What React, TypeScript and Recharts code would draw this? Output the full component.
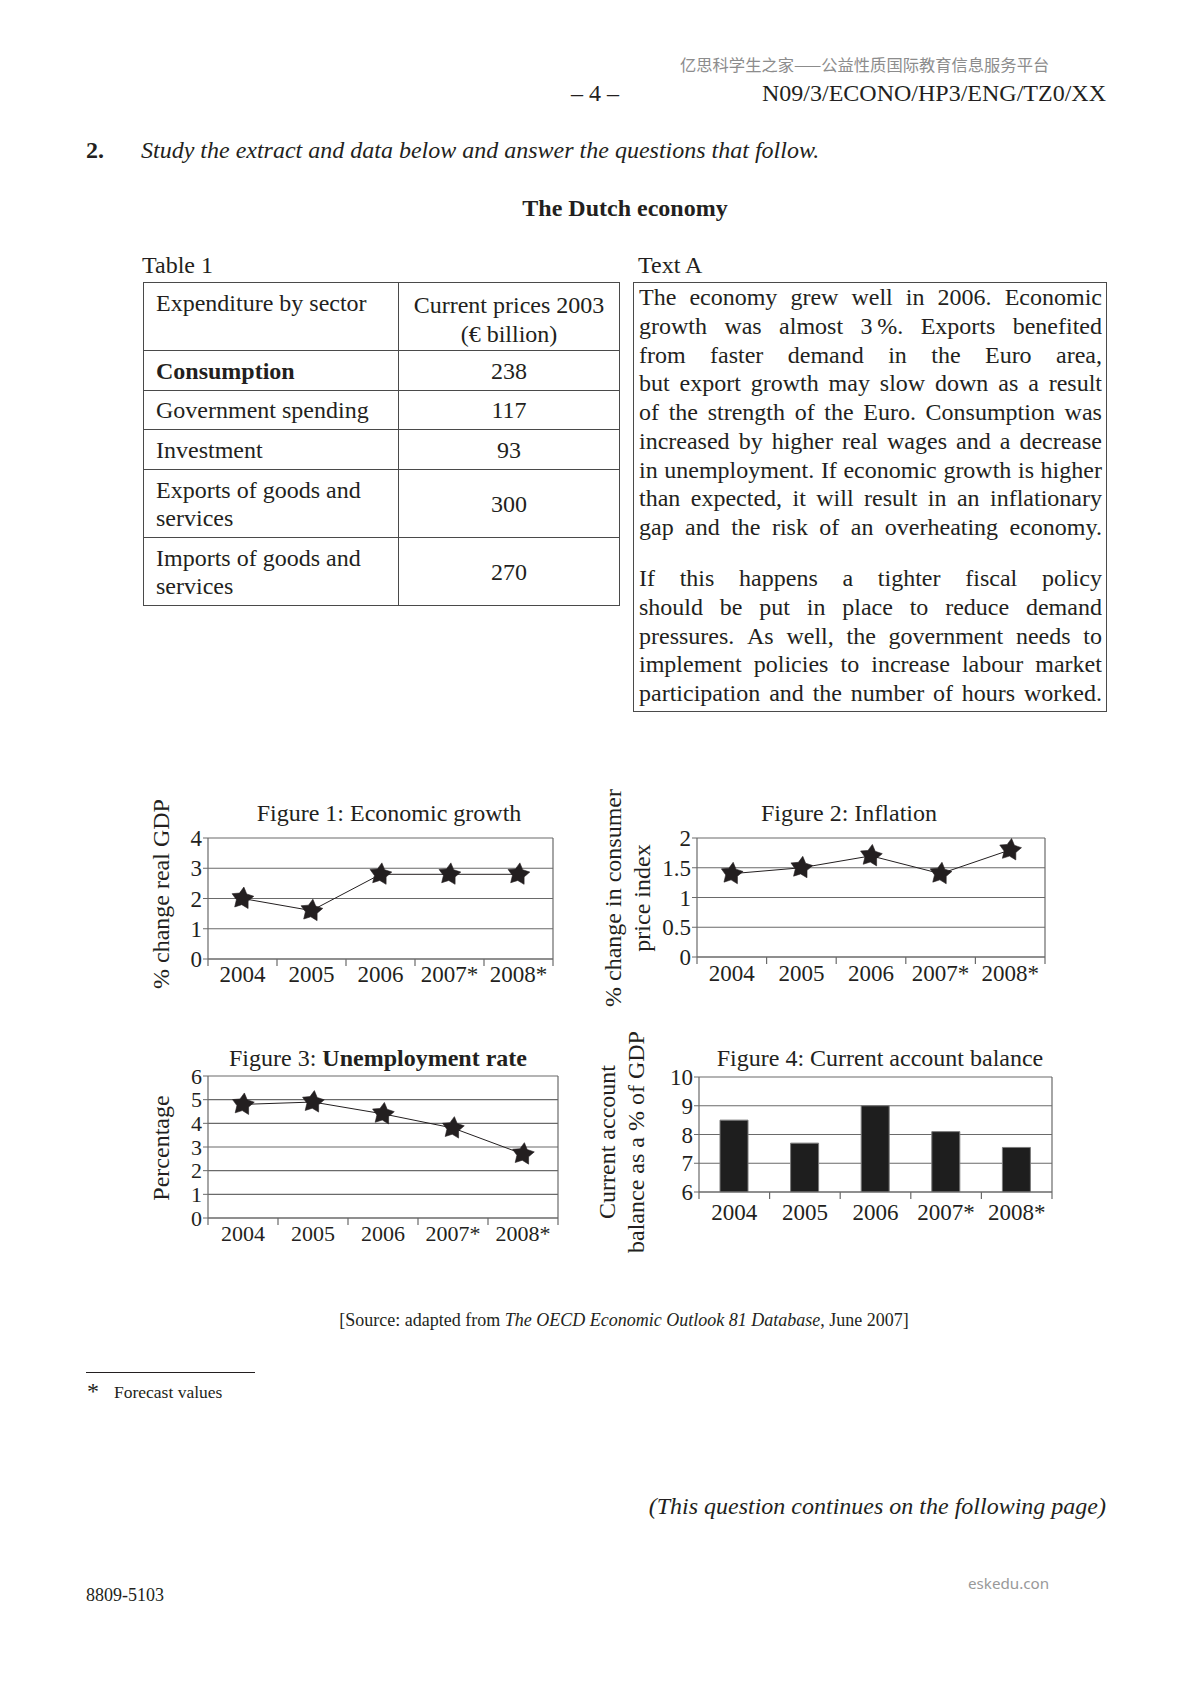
import { Bar, BarChart, CartesianGrid, Line, LineChart, XAxis, YAxis } from "recharts";

const INK = "#231f20";
const GRID = "#6a6a6a";
const SERIF = '"Liberation Serif", "Times New Roman", serif';
const PAGE_W = 1191;
const PAGE_H = 1684;

// chart data
const years = ["2004", "2005", "2006", "2007*", "2008*"];
const growth = [2.0, 1.6, 2.8, 2.8, 2.8];
const inflation = [1.4, 1.5, 1.7, 1.4, 1.8];
const unemployment = [4.8, 4.9, 4.4, 3.8, 2.7];
const currentAccount = [8.5, 7.7, 9.0, 8.1, 7.55];

const growthTicks = [0, 1, 2, 3, 4];
const inflationTicks = [0, 0.5, 1, 1.5, 2];
const unemploymentTicks = [0, 1, 2, 3, 4, 5, 6];
const currentAccountTicks = [6, 7, 8, 9, 10];

// table 1
const sectors = [
  "Consumption",
  "Government spending",
  "Investment",
  "Exports of goods and services",
  "Imports of goods and services",
];
const sectorValues = [238, 117, 93, 300, 270];
const rowHeights = [68, 40, 39, 40, 68, 68];

const textA1 = [
  "The economy grew well in 2006.  Economic",
  "growth was almost 3\u2009%.  Exports benefited",
  "from faster demand in the Euro area,",
  "but export growth may slow down as a result",
  "of the strength of the Euro.  Consumption was",
  "increased by higher real wages and a decrease",
  "in unemployment. If economic growth is higher",
  "than expected, it will result in an inflationary",
  "gap and the risk of an overheating economy.",
];
const textA2 = [
  "If this happens a tighter fiscal policy",
  "should be put in place to reduce demand",
  "pressures.  As well, the government needs to",
  "implement policies to increase labour market",
  "participation and the number of hours worked.",
];

const YW = 56;
const MT = 14;
const MR = 16;
const XH = 46;

function T({ x, y, size = 24, align = "left", children, style }: any) {
  const lh = Math.round(size * 1.2);
  const pos: any = {
    position: "absolute",
    top: y - lh / 2,
    fontSize: size,
    lineHeight: `${lh}px`,
    whiteSpace: "nowrap",
  };
  if (align === "left") pos.left = x;
  else if (align === "right") pos.right = PAGE_W - x;
  else {
    pos.left = x;
    pos.transform = "translateX(-50%)";
  }
  return <div style={{ ...pos, ...style }}>{children}</div>;
}

function VLabel({ x, y, lines, size = 24 }: any) {
  return (
    <div
      style={{
        position: "absolute",
        left: x,
        top: y,
        transform: "translate(-50%, -50%) rotate(-90deg)",
        fontSize: size,
        lineHeight: "29px",
        whiteSpace: "nowrap",
        textAlign: "center",
      }}
    >
      {lines.map((l: string) => (
        <div key={l}>{l}</div>
      ))}
    </div>
  );
}

function JLine({ text }: { text: string }) {
  const words = text.split(" ").filter((w) => w.length > 0);
  return (
    <div style={{ display: "flex", justifyContent: "space-between", height: 28.75, lineHeight: "28.75px" }}>
      {words.map((w, i) => (
        <span key={i}>{w}</span>
      ))}
    </div>
  );
}

function Star(props: any) {
  const { cx, cy } = props;
  if (cx == null || cy == null) return null;
  const pts: string[] = [];
  for (let i = 0; i < 10; i++) {
    const r = i % 2 === 0 ? 11.5 : 6.2;
    const a = -Math.PI / 2 + 0.12 + (i * Math.PI) / 5;
    pts.push(`${cx + r * Math.cos(a)},${cy + r * Math.sin(a)}`);
  }
  return <polygon points={pts.join(" ")} fill={INK} stroke={INK} strokeWidth={0.6} strokeLinejoin="round" />;
}

function yearTick(half: number, dy: number, size: number) {
  return (props: any) => {
    const { x, y, payload, index } = props;
    const last = index === years.length - 1;
    return (
      <g>
        <line x1={x - half} x2={x - half} y1={y} y2={y + 7} stroke={GRID} strokeWidth={1.2} />
        {last && <line x1={x + half} x2={x + half} y1={y} y2={y + 7} stroke={GRID} strokeWidth={1.2} />}
        <text
          x={x}
          y={y + dy}
          textAnchor="middle"
          dominantBaseline="central"
          fontSize={size}
          fontFamily={SERIF}
          fill={INK}
        >
          {payload.value}
        </text>
      </g>
    );
  };
}

function MiniChart({ kind, values, domain, ticks, box, fontSize = 23, labelDy = 18 }: any) {
  const data = years.map((year, i) => ({ year, value: values[i] }));
  const width = YW + box.w + MR;
  const height = MT + box.h + XH;
  const half = box.w / years.length / 2;
  const Chart: any = kind === "bar" ? BarChart : LineChart;
  return (
    <div style={{ position: "absolute", left: box.x - YW, top: box.y - MT }}>
      <Chart width={width} height={height} data={data} margin={{ top: MT, right: MR, bottom: 0, left: 0 }}>
        <CartesianGrid
          stroke={GRID}
          strokeWidth={1.2}
          verticalCoordinatesGenerator={({ offset }: any) => [offset.left + offset.width]}
        />
        <XAxis
          dataKey="year"
          height={XH}
          interval={0}
          tickSize={0}
          tickMargin={0}
          tickLine={false}
          padding={kind === "bar" ? undefined : { left: half, right: half }}
          axisLine={{ stroke: GRID, strokeWidth: 1.2 }}
          tick={yearTick(half, labelDy, fontSize)}
        />
        <YAxis
          type="number"
          width={YW}
          domain={domain}
          ticks={ticks}
          interval={0}
          allowDataOverflow
          tickSize={5}
          tickMargin={1}
          axisLine={{ stroke: GRID, strokeWidth: 1.2 }}
          tickLine={{ stroke: GRID }}
          tick={{ fontSize, fill: INK, fontFamily: SERIF }}
        />
        {kind === "bar" ? (
          <Bar dataKey="value" barSize={28} fill="#1e1e1e" stroke="#7a7a7a" isAnimationActive={false} />
        ) : (
          <Line
            dataKey="value"
            stroke={INK}
            strokeWidth={1}
            dot={<Star />}
            activeDot={false}
            isAnimationActive={false}
          />
        )}
      </Chart>
    </div>
  );
}

function Table1() {
  const cell: any = { border: "1.3px solid #4a4a4a", padding: 0, verticalAlign: "middle" };
  return (
    <table
      style={{
        position: "absolute",
        left: 143,
        top: 282,
        width: 476,
        borderCollapse: "collapse",
        tableLayout: "fixed",
        fontSize: 24,
        lineHeight: "28px",
        fontFamily: SERIF,
        color: INK,
      }}
    >
      <colgroup>
        <col style={{ width: 255 }} />
        <col style={{ width: 221 }} />
      </colgroup>
      <tbody>
        <tr style={{ height: rowHeights[0] }}>
          <td style={{ ...cell, verticalAlign: "top", padding: "6px 8px 0 12px" }}>Expenditure by sector</td>
          <td style={{ ...cell, textAlign: "center", padding: "6px 0 0 0", lineHeight: "29px" }}>
            Current prices 2003
            <br />
            (€ billion)
          </td>
        </tr>
        {sectors.map((s, i) => (
          <tr key={s} style={{ height: rowHeights[i + 1] }}>
            <td style={{ ...cell, padding: "0 8px 0 12px", fontWeight: i === 0 ? "bold" : "normal" }}>{s}</td>
            <td style={{ ...cell, textAlign: "center" }}>{sectorValues[i]}</td>
          </tr>
        ))}
      </tbody>
    </table>
  );
}

function TextA() {
  return (
    <div
      style={{
        position: "absolute",
        left: 633,
        top: 282,
        width: 474,
        height: 430,
        boxSizing: "border-box",
        border: "1.3px solid #4a4a4a",
        padding: "0 4px 0 5px",
        fontSize: 24,
      }}
    >
      {textA1.map((l) => (
        <JLine key={l} text={l} />
      ))}
      <div style={{ height: 22.25 }} />
      {textA2.map((l) => (
        <JLine key={l} text={l} />
      ))}
    </div>
  );
}

export default function App() {
  return (
    <div
      style={{
        position: "absolute",
        left: 0,
        top: 0,
        width: PAGE_W,
        height: PAGE_H,
        background: "#fff",
        fontFamily: SERIF,
        color: INK,
        overflow: "hidden",
      }}
    >
      <T x={680} y={64} size={16.3} style={{ fontFamily: '"Noto Sans CJK SC", sans-serif', color: "#8c8c8c" }}>
        亿思科学生之家——公益性质国际教育信息服务平台
      </T>
      <T x={595} y={93} align="center">
        – 4 –
      </T>
      <T x={1106} y={93} align="right">
        N09/3/ECONO/HP3/ENG/TZ0/XX
      </T>
      <T x={86} y={150} style={{ fontWeight: "bold" }}>
        2.
      </T>
      <T x={141} y={150} style={{ fontStyle: "italic" }}>
        Study the extract and data below and answer the questions that follow.
      </T>
      <T x={625} y={208} align="center" style={{ fontWeight: "bold" }}>
        The Dutch economy
      </T>
      <T x={142} y={265}>
        Table 1
      </T>
      <T x={638} y={265}>
        Text A
      </T>
      <Table1 />
      <TextA />

      {/* Figure 1 */}
      <T x={389} y={813} align="center">
        Figure 1: Economic growth
      </T>
      <VLabel x={161} y={894} lines={["% change real GDP"]} />
      <MiniChart
        kind="line"
        values={growth}
        domain={[0, 4]}
        ticks={growthTicks}
        box={{ x: 208, y: 838, w: 345, h: 121 }}
        labelDy={15}
      />

      {/* Figure 2 */}
      <T x={849} y={813} align="center">
        Figure 2: Inflation
      </T>
      <VLabel x={628} y={898} lines={["% change in consumer", "price index"]} />
      <MiniChart
        kind="line"
        values={inflation}
        domain={[0, 2]}
        ticks={inflationTicks}
        box={{ x: 697, y: 838, w: 348, h: 119 }}
        labelDy={16}
      />

      {/* Figure 3 */}
      <T x={378} y={1058} align="center">
        Figure 3: <b>Unemployment rate</b>
      </T>
      <VLabel x={161} y={1148} lines={["Percentage"]} />
      <MiniChart
        kind="line"
        values={unemployment}
        domain={[0, 6]}
        ticks={unemploymentTicks}
        box={{ x: 208, y: 1076, w: 350, h: 142 }}
        fontSize={22}
        labelDy={15}
      />

      {/* Figure 4 */}
      <T x={880} y={1058} align="center">
        Figure 4: Current account balance
      </T>
      <VLabel x={622} y={1142} lines={["Current account", "balance as a % of GDP"]} />
      <MiniChart
        kind="bar"
        values={currentAccount}
        domain={[6, 10]}
        ticks={currentAccountTicks}
        box={{ x: 699, y: 1077, w: 353, h: 115 }}
        labelDy={20}
      />

      <T x={624} y={1320} size={18} align="center">
        [Source: adapted from <i>The OECD Economic Outlook 81 Database</i>, June 2007]
      </T>
      <div style={{ position: "absolute", left: 86, top: 1372, width: 169, height: 1, background: INK }} />
      <T x={87} y={1391} size={24}>
        *
      </T>
      <T x={114} y={1392} size={17.5}>
        Forecast values
      </T>
      <T x={1106} y={1506} align="right" style={{ fontStyle: "italic" }}>
        (This question continues on the following page)
      </T>
      <T x={968} y={1583} size={15.2} style={{ fontFamily: '"Noto Sans", sans-serif', color: "#999" }}>
        eskedu.con
      </T>
      <T x={86} y={1595} size={18}>
        8809-5103
      </T>
    </div>
  );
}
